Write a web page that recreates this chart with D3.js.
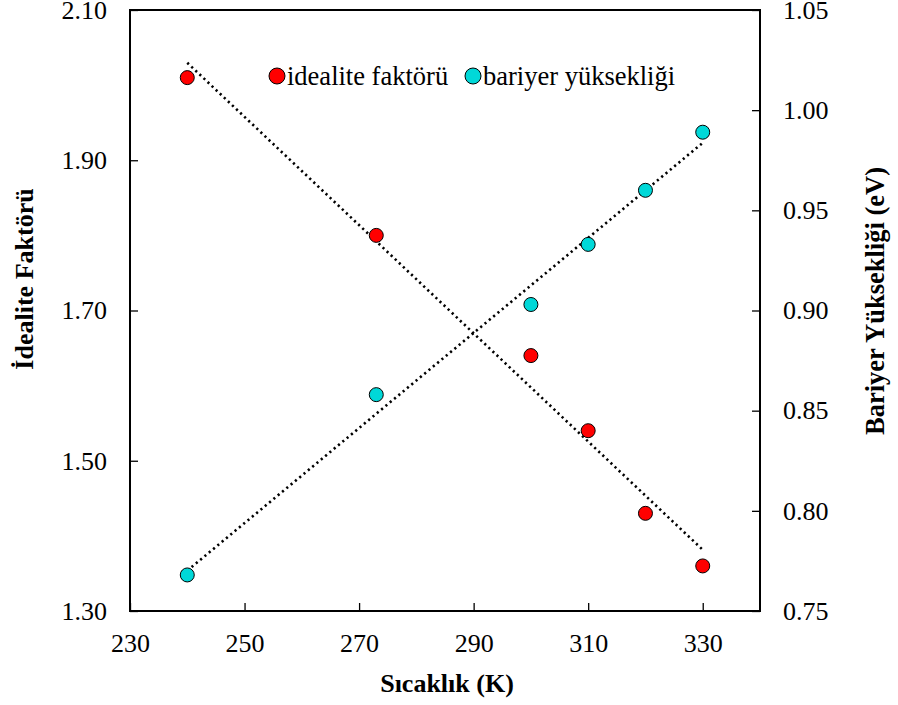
<!DOCTYPE html>
<html><head><meta charset="utf-8">
<script src="https://cdn.jsdelivr.net/npm/d3@7/dist/d3.min.js"></script>
<style>body{margin:0;background:#fff}svg{display:block}
svg text{font-family:"Liberation Serif","Times New Roman",serif !important;fill:#000}</style>
</head><body>
<svg id="c" width="898" height="705"></svg>
<script>
const temps = [240, 273, 300, 310, 320, 330];
const idealite = [2.01, 1.80, 1.64, 1.54, 1.43, 1.36];
const bariyer = [0.768, 0.858, 0.903, 0.933, 0.960, 0.989];
const xTicks = [230, 250, 270, 290, 310, 330];
const yLeftTicks = [1.30, 1.50, 1.70, 1.90, 2.10];
const yRightTicks = [0.75, 0.80, 0.85, 0.90, 0.95, 1.00, 1.05];
const seriesNames = ["idealite faktörü", "bariyer yüksekliği"];
const colors = ["#ff0000", "#00d8d8"];

const svg = d3.select("#c");
const L = 130, R = 760, T = 10, B = 611;
const x = d3.scaleLinear().domain([230, 340]).range([L, R]);
const yL = d3.scaleLinear().domain([1.30, 2.10]).range([B, T]);
const yR = d3.scaleLinear().domain([0.75, 1.05]).range([B, T]);

function fit(xs, ys) {
  const n = xs.length, mx = d3.mean(xs), my = d3.mean(ys);
  let sxy = 0, sxx = 0;
  for (let i = 0; i < n; i++) { sxy += (xs[i]-mx)*(ys[i]-my); sxx += (xs[i]-mx)**2; }
  const b = sxy / sxx; return v => my + b*(v - mx);
}

const fmt2 = d3.format(".2f");
const gx = svg.append("g").attr("transform", `translate(0,${B})`)
  .call(d3.axisBottom(x).tickValues(xTicks).tickSize(-8).tickPadding(14).tickFormat(d3.format("d")));
const gl = svg.append("g").attr("transform", `translate(${L},0)`)
  .call(d3.axisLeft(yL).tickValues(yLeftTicks).tickSize(-8).tickPadding(23).tickFormat(fmt2));
const gr = svg.append("g").attr("transform", `translate(${R},0)`)
  .call(d3.axisRight(yR).tickValues(yRightTicks).tickSize(-8).tickPadding(23).tickFormat(fmt2));
[gx, gl, gr].forEach(g => {
  g.attr("font-family", null).attr("font-size", null);
  g.select(".domain").remove();
  g.selectAll("line").attr("stroke", "#000").attr("stroke-width", 1.3);
  g.selectAll("text").style("font-size", "26px");
});
gx.selectAll("text").attr("y", 41).attr("dy", 0);
svg.append("rect").attr("x", L).attr("y", T).attr("width", R-L).attr("height", B-T)
  .attr("fill", "none").attr("stroke", "#000").attr("stroke-width", 2);

const fL = fit(temps, idealite), fR = fit(temps, bariyer);
const x0 = d3.min(temps), x1 = d3.max(temps);
[[fL, yL], [fR, yR]].forEach(([f, y]) => {
  svg.append("line").attr("x1", x(x0)).attr("y1", y(f(x0))).attr("x2", x(x1)).attr("y2", y(f(x1)))
    .attr("stroke", "#000").attr("stroke-width", 2.6).attr("stroke-dasharray", "2.2,3.4");
});

svg.append("g").selectAll("circle").data(temps).join("circle")
  .attr("cx", (d) => x(d)).attr("cy", (d, i) => yL(idealite[i])).attr("r", 7)
  .attr("fill", colors[0]).attr("stroke", "#000").attr("stroke-width", 1);
svg.append("g").selectAll("circle").data(temps).join("circle")
  .attr("cx", (d) => x(d)).attr("cy", (d, i) => yR(bariyer[i])).attr("r", 7)
  .attr("fill", colors[1]).attr("stroke", "#000").attr("stroke-width", 1);

const leg = [{x: 277, t: seriesNames[0], c: colors[0]}, {x: 473, t: seriesNames[1], c: colors[1]}];
leg.forEach(d => {
  svg.append("circle").attr("cx", d.x).attr("cy", 76).attr("r", 8)
    .attr("fill", d.c).attr("stroke", "#000").attr("stroke-width", 1);
  svg.append("text").attr("x", d.x + 10).attr("y", 85).text(d.t).style("font-size", "26.5px");
});

svg.append("text").attr("x", 447).attr("y", 692).attr("text-anchor", "middle")
  .style("font-size", "26px").style("font-weight", "bold").text("Sıcaklık (K)");
svg.append("text").attr("transform", "translate(33,279) rotate(-90)").attr("text-anchor", "middle")
  .style("font-size", "26px").style("font-weight", "bold").text("İdealite Faktörü");
svg.append("text").attr("transform", "translate(884,301) rotate(-90)").attr("text-anchor", "middle")
  .style("font-size", "26.5px").style("font-weight", "bold").text("Bariyer Yüksekliği (eV)");
</script>
</body></html>
